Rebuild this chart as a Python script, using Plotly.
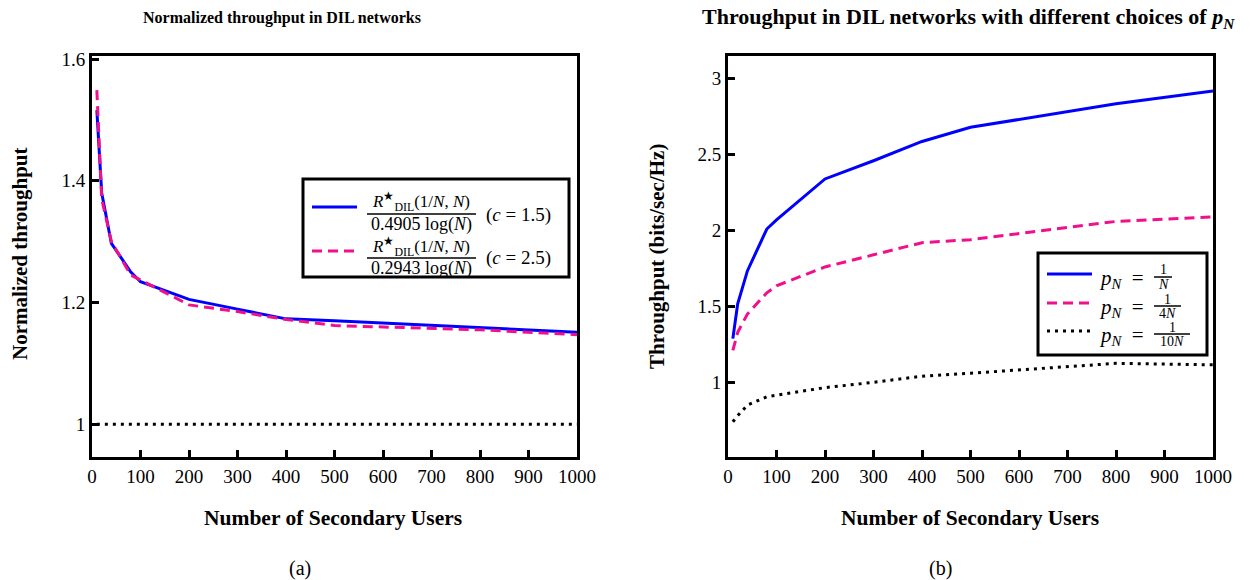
import plotly.graph_objects as go

# ---------------- data ----------------
N_users = [10, 20, 40, 80, 100, 200, 300, 400, 500, 800, 1000]

# (a) normalized throughput
norm_c15 = [1.516, 1.38, 1.297, 1.25, 1.234, 1.205, 1.189, 1.173, 1.170, 1.159, 1.151]
norm_c25 = [1.549, 1.37, 1.300, 1.245, 1.237, 1.196, 1.185, 1.172, 1.162, 1.155, 1.147]
norm_ref = [1.0] * len(N_users)

# (b) throughput (bits/sec/Hz)
thr_1N = [1.288, 1.518, 1.734, 2.01, 2.07, 2.34, 2.46, 2.587, 2.68, 2.836, 2.92]
thr_4N = [1.21, 1.33, 1.45, 1.59, 1.636, 1.76, 1.84, 1.92, 1.94, 2.06, 2.09]
thr_10N = [0.74, 0.78, 0.85, 0.905, 0.915, 0.965, 1.0, 1.04, 1.06, 1.125, 1.115]

x_ticks = list(range(0, 1001, 100))
y_ticks_a = [1, 1.2, 1.4, 1.6]
y_ticks_b = [1, 1.5, 2, 2.5, 3]

BLUE = "#0000FF"
PINK = "#F0108C"
BLACK = "#000000"
SERIF = "Liberation Serif"

W, H = 1250, 580


def px(x):
    return x / W


def py(y):
    return 1 - y / H


fig = go.Figure()

# ---- panel (a) ----
fig.add_trace(go.Scatter(x=N_users, y=norm_c15, mode="lines", line=dict(color=BLUE, width=3),
                         xaxis="x", yaxis="y", showlegend=False))
fig.add_trace(go.Scatter(x=N_users, y=norm_c25, mode="lines", line=dict(color=PINK, width=3, dash="10px,6px"),
                         xaxis="x", yaxis="y", showlegend=False))
fig.add_trace(go.Scatter(x=N_users, y=norm_ref, mode="lines", line=dict(color=BLACK, width=3, dash="3px,5px"),
                         xaxis="x", yaxis="y", showlegend=False))

# ---- panel (b) ----
fig.add_trace(go.Scatter(x=N_users, y=thr_1N, mode="lines", line=dict(color=BLUE, width=3),
                         xaxis="x2", yaxis="y2", showlegend=False))
fig.add_trace(go.Scatter(x=N_users, y=thr_4N, mode="lines", line=dict(color=PINK, width=3, dash="10px,6px"),
                         xaxis="x2", yaxis="y2", showlegend=False))
fig.add_trace(go.Scatter(x=N_users, y=thr_10N, mode="lines", line=dict(color=BLACK, width=3, dash="3px,5px"),
                         xaxis="x2", yaxis="y2", showlegend=False))

axis_common = dict(showline=True, linewidth=3, linecolor="black", mirror=True,
                   ticks="inside", ticklen=7, tickwidth=3, tickcolor="black",
                   showgrid=False, zeroline=False, automargin=False,
                   tickfont=dict(family=SERIF, size=19, color="black"))

fig.update_layout(
    template="none",
    width=W, height=H, autosize=False,
    margin=dict(l=0, r=0, t=0, b=0, pad=0, autoexpand=False),
    paper_bgcolor="white", plot_bgcolor="white",
    xaxis=dict(domain=[px(92), px(577)], range=[0, 1000], tickvals=x_ticks, anchor="y", **axis_common),
    yaxis=dict(domain=[py(457), py(56)], range=[0.946, 1.605], tickvals=y_ticks_a, anchor="x", **axis_common),
    xaxis2=dict(domain=[px(728), px(1213)], range=[0, 1000], tickvals=x_ticks, anchor="y2", **axis_common),
    yaxis2=dict(domain=[py(457), py(56)], range=[0.508, 3.15], tickvals=y_ticks_b, anchor="x2", **axis_common),
)

ann = []
shapes = []


def text(x, y, s, size=18, bold=False, xanchor="center", angle=0):
    if bold:
        s = "<b>" + s + "</b>"
    ann.append(dict(x=px(x), y=py(y), xref="paper", yref="paper", text=s, showarrow=False,
                    xanchor=xanchor, yanchor="middle", textangle=angle,
                    font=dict(family=SERIF, size=size, color="black")))


def hline(x0, x1, y, color="black", width=1.5, dash=None):
    line = dict(color=color, width=width)
    if dash:
        line["dash"] = dash
    shapes.append(dict(type="line", xref="paper", yref="paper", x0=px(x0), x1=px(x1),
                       y0=py(y), y1=py(y), line=line))


def box(x0, y0, x1, y1):
    shapes.append(dict(type="rect", xref="paper", yref="paper", x0=px(x0), x1=px(x1),
                       y0=py(y1), y1=py(y0), line=dict(color="black", width=3), fillcolor="white",
                       layer="above"))


# titles & axis labels
text(282, 18, "Normalized throughput in DIL networks", size=16, bold=True)
text(968, 18, "Throughput in DIL networks with different choices of <i>p<sub>N</sub></i>", size=22, bold=True)
text(333, 518, "Number of Secondary Users", size=21.5, bold=True)
text(970, 518, "Number of Secondary Users", size=21.5, bold=True)
text(20, 254, "Normalized throughput", size=21, bold=True, angle=-90)
text(657, 257, "Throughput (bits/sec/Hz)", size=21, bold=True, angle=-90)
text(300, 568, "(a)", size=20)
text(940, 568, "(b)", size=20)

# legend (a)
box(303, 179, 569, 277)
hline(312, 357, 207, BLUE, 3)
hline(312, 357, 251, PINK, 3, "10px,6px")
num_a = "<i>R</i><sup>★</sup><sub>DIL</sub>(1/<i>N</i>, <i>N</i>)"
text(421, 202, num_a, size=17)
hline(367, 476, 214, "black", 1.5)
text(421, 224, "0.4905 log(<i>N</i>)", size=18)
text(484, 215, "(<i>c</i> = 1.5)", size=19, xanchor="left")
text(421, 246, num_a, size=17)
hline(367, 476, 258, "black", 1.5)
text(421, 268, "0.2943 log(<i>N</i>)", size=18)
text(484, 258, "(<i>c</i> = 2.5)", size=19, xanchor="left")

# legend (b)
box(1038, 253, 1207, 355)
hline(1047, 1092, 274, BLUE, 3)
hline(1047, 1092, 303, PINK, 3, "10px,6px")
hline(1047, 1092, 331, BLACK, 3, "3px,5px")
for yc, den, bx1 in [(277, "<i>N</i>", 1172), (306, "4<i>N</i>", 1181), (334, "10<i>N</i>", 1190)]:
    text(1097, yc + 2, "<i>p<sub>N</sub></i>&nbsp;&nbsp;=", size=21, xanchor="left")
    cx = (1154 + bx1) / 2
    text(cx, yc - 7, "1", size=14)
    hline(1154, bx1, yc, "black", 1.5)
    text(cx, yc + 7, den, size=14)

fig.update_layout(annotations=ann, shapes=shapes)

page_fix = (
    "var de=document.documentElement,b=document.body;"
    "de.style.margin='0';de.style.overflow='hidden';"
    "b.style.margin='0';b.style.overflow='hidden';"
)
fig.write_html(
    "out.html",
    default_width=W, default_height=H,
    config={"responsive": False, "displayModeBar": False},
    post_script=page_fix,
)
